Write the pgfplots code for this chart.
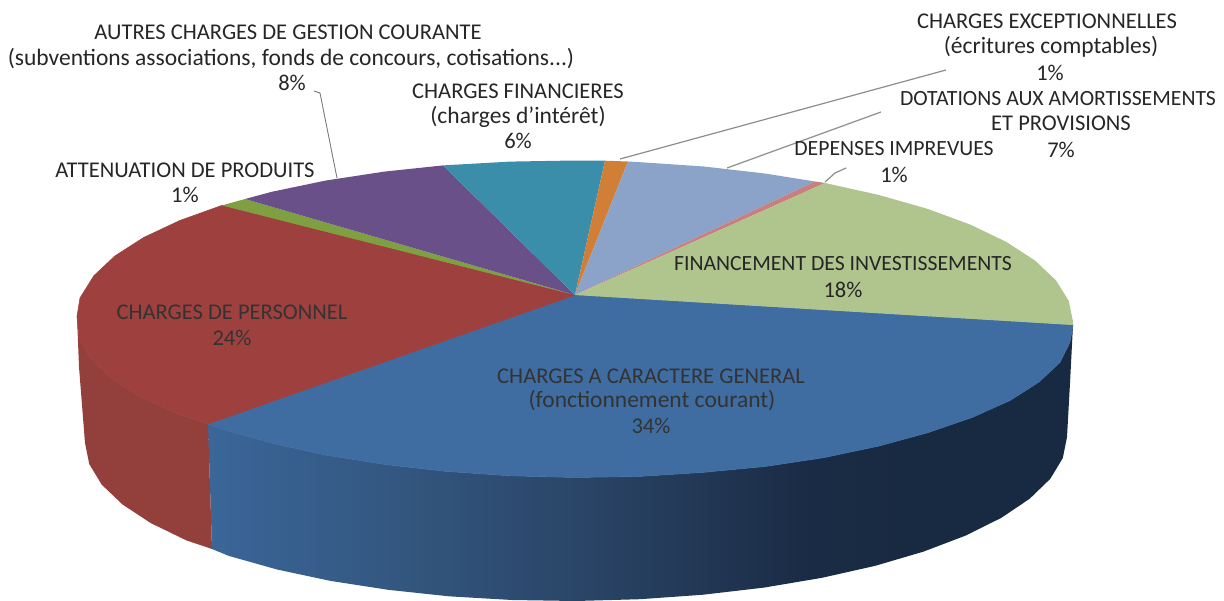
\documentclass[border=0pt]{standalone}
\usepackage{pgfplots}
\pgfplotsset{compat=1.18}
\usepackage{fontspec}
\setmainfont{Carlito}
\definecolor{cblue}{HTML}{3F6DA2}
\definecolor{cred}{HTML}{9E413E}
\definecolor{credside}{HTML}{93403C}
\definecolor{cgreen}{HTML}{7FA040}
\definecolor{cpurple}{HTML}{6A5088}
\definecolor{cteal}{HTML}{3B8EA9}
\definecolor{corange}{HTML}{D17F36}
\definecolor{clight}{HTML}{8BA2C9}
\definecolor{cpink}{HTML}{C97F7D}
\definecolor{colive}{HTML}{B0C48E}
\pgfdeclarehorizontalshading{blueside}{100bp}{rgb(0bp)=(0.23,0.40,0.60); rgb(25bp)=(0.23,0.40,0.60); rgb(36bp)=(0.20,0.34,0.50); rgb(48bp)=(0.16,0.26,0.39); rgb(59bp)=(0.105,0.175,0.275); rgb(65bp)=(0.095,0.165,0.255); rgb(100bp)=(0.095,0.165,0.255)}
\tikzset{lbl/.style={font=\fontsize{11.3}{13}\selectfont,text=black!85,inner sep=0pt,anchor=center}}
\tikzset{lbls/.style={lbl,font=\fontsize{10.9}{13}\selectfont}}
\tikzset{lbll/.style={lbl,font=\fontsize{11.8}{13}\selectfont}}
\tikzset{lbld/.style={lbl,text=black!80}}
\begin{document}
\begin{tikzpicture}
\begin{axis}[scale only axis,width=612bp,height=300.5bp,xmin=0,xmax=1224,ymin=0,ymax=601,y dir=reverse,hide axis]
% fixes the picture's extent to the axis box
\addplot[draw=none,forget plot] coordinates {(0,0)(1224,601)};
% side, blue
\addplot[draw=none,shade,shading=blueside,forget plot] coordinates {(1073,325)(1070,342)(1060,362.4)(1039,382)(1010,400.5)(972,417.5)(927.1,432.9)(878.2,446.2)(824,457.6)(765.6,466.4)(703.9,472.3)(640,476.4)(575,477.5)(510,475.8)(446.1,471.4)(384.4,464.4)(326,455.1)(271.8,443.2)(222.9,429.3)(208,424)(212,549)(228.8,555.9)(277.1,569.5)(330.5,580.9)(388.1,589.8)(448.9,596.3)(511.9,600)(576,601)(640.1,599.2)(703.1,594.7)(763.9,587.6)(821.5,577.9)(874.9,565.9)(923.2,551.7)(965.6,535.6)(1001.2,517.9)(1029.6,498.8)(1050.3,478.8)(1062.8,458)(1067,437)(1070,383)(1073,325)};
% side, red
\addplot[draw=none,fill=credside,forget plot] coordinates {(208,424)(177,413.5)(139,396.1)(110,377.4)(90,357.6)(79,337.2)(77,316.5)(79,367)(85,443)(89.2,464)(101.7,484.6)(122.4,504.4)(150.8,523.1)(186.4,540.4)(212,549)(208,424)};
% top, charges a caractere general
\addplot[draw=cblue,fill=cblue,line width=0.3pt,forget plot] coordinates {(575,295)(1073,325)(1070,342)(1060,362.4)(1039,382)(1010,400.5)(972,417.5)(927.1,432.9)(878.2,446.2)(824,457.6)(765.6,466.4)(703.9,472.3)(640,476.4)(575,477.5)(510,475.8)(446.1,471.4)(384.4,464.4)(326,455.1)(271.8,443.2)(222.9,429.3)(208,424)(575,295)};
% top, charges de personnel
\addplot[draw=cred,fill=cred,line width=0.3pt,forget plot] coordinates {(575,295)(208,424)(177,413.5)(139,396.1)(110,377.4)(90,357.6)(79,337.2)(77,316.5)(80,298)(94,275.6)(114.9,256)(143.7,237.5)(179.9,220.5)(222,205.4)(575,295)};
% attenuation de produits
\addplot[draw=none,fill=cgreen,forget plot] coordinates {(575,295)(222,205.4)(245,199)(575,295)};
% autres charges
\addplot[draw=none,fill=cpurple,forget plot] coordinates {(575,295)(245,199)(271.8,191.8)(326,180.5)(384.4,171.6)(443,165.4)(575,295)};
% charges financieres
\addplot[draw=none,fill=cteal,forget plot] coordinates {(575,295)(443,165.4)(510,161.6)(575,160.5)(605,160.7)(575,295)};
% charges exceptionnelles
\addplot[draw=none,fill=corange,forget plot] coordinates {(575,295)(605,160.7)(628,161.5)(575,295)};
% dotations
\addplot[draw=none,fill=clight,forget plot] coordinates {(575,295)(628,161.5)(640,162.2)(703.9,166.5)(765.6,173.6)(815,181.5)(575,295)};
% depenses imprevues
\addplot[draw=none,fill=cpink,forget plot] coordinates {(575,295)(815,181.5)(825,183)(575,295)};
% financement
\addplot[draw=none,fill=colive,forget plot] coordinates {(575,295)(825,183)(878.2,194.8)(927.1,208.7)(970.1,224.5)(1006.3,241.9)(1035.1,260.6)(1056,280.4)(1068.7,300.8)(1073,321.5)(1073,325)(575,295)};
% leader lines
\addplot[draw=black!55,line width=0.4pt,forget plot] coordinates {(314,91)(320,93)(337,178)};
\addplot[draw=black!45,line width=0.6pt,forget plot] coordinates {(946,70)(620,159)};
\addplot[draw=black!45,line width=0.6pt,forget plot] coordinates {(881,112)(727,168)};
\addplot[draw=black!45,line width=0.6pt,forget plot] coordinates {(846,168)(835,173)(825,182)};
% labels
\node[lbl] at (axis cs:288,32) {AUTRES CHARGES DE GESTION COURANTE};
\node[lbll] at (axis cs:291,59) {(subventions associations, fonds de concours, cotisations...)};
\node[lbl] at (axis cs:292,83) {8\%};
\node[lbl] at (axis cs:518,91) {CHARGES FINANCIERES};
\node[lbll] at (axis cs:518,117) {(charges d'intérêt)};
\node[lbl] at (axis cs:518,141) {6\%};
\node[lbl] at (axis cs:185,170) {ATTENUATION DE PRODUITS};
\node[lbl] at (axis cs:185,195) {1\%};
\node[lbl] at (axis cs:1047,21) {CHARGES EXCEPTIONNELLES};
\node[lbll] at (axis cs:1051,47) {(écritures comptables)};
\node[lbl] at (axis cs:1050,73) {1\%};
\node[lbls] at (axis cs:1058,99) {DOTATIONS AUX AMORTISSEMENTS};
\node[lbl] at (axis cs:1061,123) {ET PROVISIONS};
\node[lbl] at (axis cs:1061,150) {7\%};
\node[lbls] at (axis cs:894,149) {DEPENSES IMPREVUES};
\node[lbl] at (axis cs:894,175) {1\%};
\node[lbls] at (axis cs:843,264) {FINANCEMENT DES INVESTISSEMENTS};
\node[lbl] at (axis cs:843,290) {18\%};
\node[lbld] at (axis cs:232,312) {CHARGES DE PERSONNEL};
\node[lbld] at (axis cs:232,338) {24\%};
\node[lbld] at (axis cs:651,376) {CHARGES A CARACTERE GENERAL};
\node[lbll,text=black!80] at (axis cs:652,401) {(fonctionnement courant)};
\node[lbld] at (axis cs:651,426) {34\%};
\end{axis}
\end{tikzpicture}
\end{document}
